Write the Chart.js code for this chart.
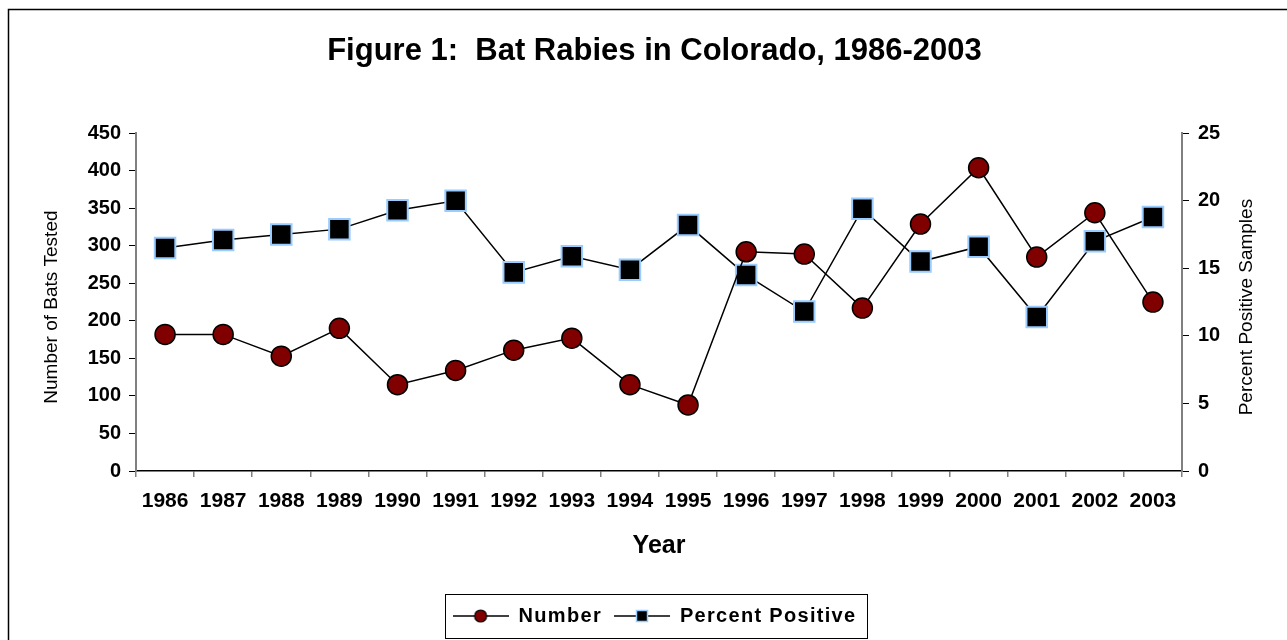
<!DOCTYPE html>
<html lang="en">
<head>
  <meta charset="UTF-8">
  <title>Bat Rabies in Colorado</title>
  <script src="https://cdn.jsdelivr.net/npm/chart.js"></script>
  <style>
    html, body {
      margin: 0;
      padding: 0;
      background: #fff;
    }
    #wrap {
      width: 1287px;
      height: 640px;
    }
  </style>
</head>
<body>
  <div id="wrap"><canvas id="batChart"></canvas></div>

  <script>
    // data
    const years = ['1986', '1987', '1988', '1989', '1990', '1991', '1992', '1993', '1994',
                   '1995', '1996', '1997', '1998', '1999', '2000', '2001', '2002', '2003'];
    const numberTested = [182, 182, 153, 190, 115, 134, 161, 177, 115,
                          88, 292, 289, 217, 329, 404, 285, 344, 225];
    const percentPositive = [16.5, 17.1, 17.5, 17.9, 19.3, 20.0, 14.7, 15.9, 14.9,
                             18.2, 14.5, 11.8, 19.4, 15.5, 16.6, 11.4, 17.0, 18.8];

    const FONT = "'Liberation Sans', Arial, sans-serif";

    // little "—●—" and "—■—" pictures for the legend
    function legendIcon(kind) {
      const c = document.createElement('canvas');
      c.width = 56; c.height = 20;
      const g = c.getContext('2d');
      g.strokeStyle = '#000';
      g.lineWidth = 1.5;
      g.beginPath(); g.moveTo(0, 10); g.lineTo(56, 10); g.stroke();
      if (kind === 'circle') {
        g.beginPath(); g.arc(28, 10, 6, 0, Math.PI * 2);
        g.fillStyle = '#800000'; g.fill();
        g.lineWidth = 1.2; g.stroke();
      } else {
        g.fillStyle = '#000';
        g.fillRect(22.5, 4.5, 11, 11);
        g.strokeStyle = '#99ccff'; g.lineWidth = 1.5;
        g.strokeRect(22.5, 4.5, 11, 11);
      }
      return c;
    }
    const icons = [legendIcon('circle'), legendIcon('rect')];

    // outer frame, legend box, both y titles read bottom-to-top
    const framePlugin = {
      id: 'frames',
      beforeUpdate(chart) {
        // the legend text in the figure is spaced out a little
        const lg = chart.legend;
        if (!lg || lg._spaced) return;
        lg._spaced = true;
        ['fit', 'draw'].forEach(fn => {
          const orig = lg[fn];
          lg[fn] = function () {
            const ctx = this.ctx;
            const prev = ctx.letterSpacing;
            ctx.letterSpacing = '1.3px';
            const r = orig.apply(this, arguments);
            ctx.letterSpacing = prev || '0px';
            return r;
          };
        });
      },
      beforeDraw(chart) {
        const ctx = chart.ctx;
        ctx.save();
        ctx.fillStyle = '#fff';
        ctx.fillRect(0, 0, chart.width, chart.height);
        ctx.strokeStyle = '#000';
        ctx.lineWidth = 1.5;
        ctx.strokeRect(8.5, 9.5, chart.width + 20, chart.height + 20);
        ctx.restore();
      },
      afterDraw(chart) {
        const ctx = chart.ctx;
        const boxes = chart.legend.legendHitBoxes;
        if (boxes && boxes.length) {
          const left = Math.min(...boxes.map(b => b.left)) - 8;
          const right = Math.max(...boxes.map(b => b.left + b.width)) + 10;
          const mid = boxes[0].top + boxes[0].height / 2;
          ctx.save();
          ctx.strokeStyle = '#000';
          ctx.lineWidth = 1;
          ctx.strokeRect(Math.round(left) + 0.5, Math.round(mid - 22) + 0.5,
                         Math.round(right - left), 44);
          ctx.restore();
        }
        const area = chart.chartArea;
        const midY = (area.top + area.bottom) / 2 + 5;
        ctx.save();
        ctx.fillStyle = '#000';
        ctx.font = '19px ' + FONT;
        ctx.textAlign = 'center';
        ctx.textBaseline = 'middle';
        [[52, 'Number of Bats Tested'], [1247, 'Percent Positive Samples']].forEach(([x, t]) => {
          ctx.save();
          ctx.translate(x, midY);
          ctx.rotate(-Math.PI / 2);
          ctx.fillText(t, 0, 0);
          ctx.restore();
        });
        ctx.restore();
      }
    };

    new Chart(document.getElementById('batChart'), {
      type: 'line',
      data: {
        labels: years,
        datasets: [{
          label: 'Number',
          data: numberTested,
          yAxisID: 'y',
          borderColor: '#000',
          borderWidth: 1.5,
          pointStyle: 'circle',
          pointRadius: 10,
          pointBackgroundColor: '#800000',
          pointBorderColor: '#000',
          pointBorderWidth: 1.5,
          tension: 0
        }, {
          label: 'Percent Positive',
          data: percentPositive,
          yAxisID: 'y1',
          borderColor: '#000',
          borderWidth: 1.5,
          pointStyle: 'rect',
          pointRadius: 14.5,
          pointBackgroundColor: '#000',
          pointBorderColor: '#99ccff',
          pointBorderWidth: 2,
          tension: 0
        }]
      },
      options: {
        responsive: true,
        maintainAspectRatio: false,
        animation: false,
        events: [],
        layout: { padding: { left: 22, right: 0, top: 0, bottom: 4 } },
        plugins: {
          title: {
            display: true,
            text: 'Figure 1:  Bat Rabies in Colorado, 1986-2003',
            color: '#000',
            font: { family: FONT, size: 31, weight: 'bold' },
            padding: { top: 33, bottom: 63 }
          },
          legend: {
            position: 'bottom',
            labels: {
              color: '#000',
              font: { family: FONT, size: 20, weight: 'bold' },
              usePointStyle: true,
              pointStyleWidth: 56,
              padding: 12,
              generateLabels: (chart) => chart.data.datasets.map((ds, i) => ({
                text: ds.label,
                pointStyle: icons[i],
                fillStyle: '#fff',
                strokeStyle: '#fff',
                lineWidth: 0,
                hidden: false,
                datasetIndex: i
              }))
            }
          },
          tooltip: { enabled: false }
        },
        scales: {
          x: {
            offset: true,
            grid: {
              offset: true,
              drawOnChartArea: false,
              drawTicks: true,
              tickLength: 6,
              color: '#808080',
              lineWidth: 1.5
            },
            border: { color: '#000', width: 1.5 },
            ticks: {
              color: '#000',
              font: { family: FONT, size: 21, weight: 'bold' },
              maxRotation: 0,
              autoSkip: false,
              padding: 12
            },
            title: {
              display: true,
              text: 'Year',
              color: '#000',
              font: { family: FONT, size: 25, weight: 'bold' },
              padding: { top: 0, bottom: 33 }
            },
            afterFit(scale) { scale.height = 123; }
          },
          y: {
            position: 'left',
            min: 0,
            max: 450,
            grid: {
              drawOnChartArea: false,
              drawTicks: true,
              tickLength: 7,
              color: '#000',
              lineWidth: 1
            },
            border: { color: '#808080', width: 2 },
            ticks: {
              stepSize: 50,
              color: '#000',
              font: { family: FONT, size: 20, weight: 'bold' },
              padding: 8
            },
            title: { display: false },
            afterFit(scale) { scale.width = 114; }
          },
          y1: {
            position: 'right',
            min: 0,
            max: 25,
            grid: {
              drawOnChartArea: false,
              drawTicks: true,
              tickLength: 7,
              color: '#000',
              lineWidth: 1
            },
            border: { color: '#808080', width: 2 },
            ticks: {
              stepSize: 5,
              color: '#000',
              font: { family: FONT, size: 20, weight: 'bold' },
              padding: 9
            },
            title: { display: false },
            afterFit(scale) { scale.width = 105; }
          }
        }
      },
      plugins: [framePlugin]
    });
  </script>
</body>
</html>
